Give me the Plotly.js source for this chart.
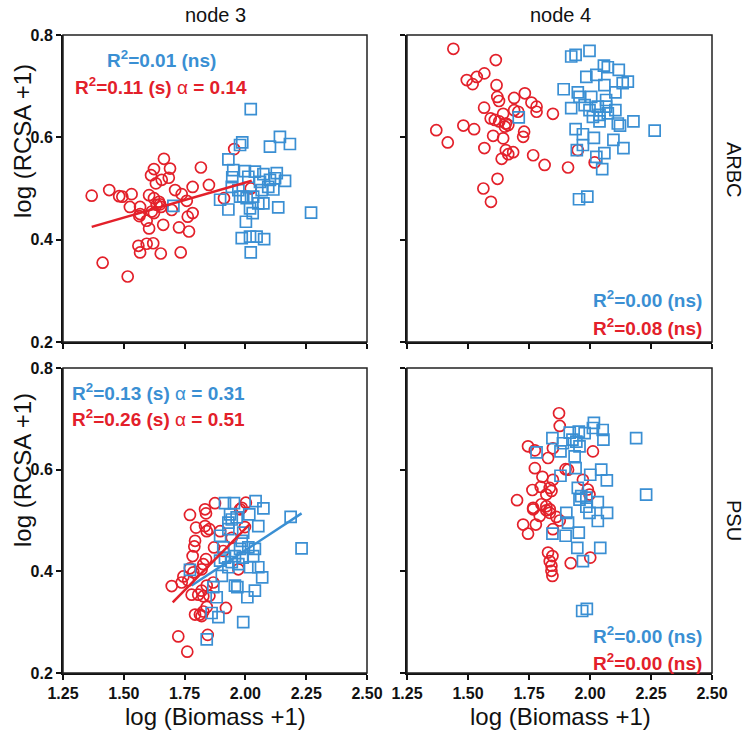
<!DOCTYPE html>
<html>
<head>
<meta charset="utf-8">
<script src="https://cdn.plot.ly/plotly-3.0.1.min.js"></script>
<style>html,body{margin:0;padding:0;background:#fff;}#chart{width:750px;height:738px;}</style>
</head>
<body>
<div id="chart"></div>
<script>
// ---- Data (log Biomass +1, log RCSA +1) ----
// Panel node 3 / ARBC
const n3ArbcRedX = [1.368,1.440,1.481,1.494,1.532,1.525,1.567,1.564,1.594,1.604,1.604,1.624,1.645,1.653,1.624,1.665,1.624,1.612,1.690,1.685,1.656,1.632,1.711,1.738,1.697,1.759,1.783,1.817,1.850,1.763,1.783,1.662,1.727,1.768,1.560,1.567,1.594,1.621,1.652,1.734,1.413,1.516,1.649,1.954,1.912,2.022,1.635,1.615,1.567];
const n3ArbcRedY = [0.486,0.497,0.485,0.484,0.489,0.464,0.464,0.446,0.437,0.422,0.487,0.481,0.474,0.464,0.452,0.558,0.538,0.526,0.539,0.521,0.517,0.510,0.497,0.489,0.458,0.476,0.503,0.541,0.507,0.445,0.452,0.429,0.424,0.416,0.388,0.375,0.392,0.393,0.373,0.375,0.355,0.328,0.469,0.577,0.481,0.500,0.468,0.455,0.450];
const n3ArbcBlueX = [2.022,1.987,1.978,2.142,2.101,2.183,1.930,1.950,1.946,1.998,2.039,2.074,2.129,2.122,2.163,2.101,2.060,1.944,1.971,1.991,2.032,2.067,2.115,2.074,1.896,1.930,2.019,2.030,2.135,2.270,2.002,1.985,2.019,2.046,2.077,2.022,2.005,2.053,2.094,1.978,2.012,1.704];
const n3ArbcBlueY = [0.655,0.590,0.585,0.601,0.582,0.587,0.557,0.536,0.522,0.534,0.533,0.528,0.530,0.520,0.515,0.517,0.513,0.503,0.497,0.484,0.484,0.497,0.498,0.471,0.478,0.459,0.461,0.452,0.463,0.453,0.435,0.403,0.406,0.406,0.401,0.375,0.481,0.471,0.503,0.484,0.523,0.466];
const n3ArbcRedFitX = [1.368, 2.026];
const n3ArbcRedFitY = [0.425, 0.515];

// Panel node 4 / ARBC
const n4ArbcRedX = [1.440,1.614,1.495,1.519,1.536,1.567,1.617,1.620,1.627,1.566,1.689,1.733,1.760,1.781,1.781,1.848,1.644,1.689,1.706,1.593,1.610,1.628,1.655,1.665,1.651,1.481,1.525,1.370,1.417,1.603,1.644,1.730,1.726,1.567,1.655,1.665,1.685,1.638,1.767,1.814,1.621,1.563,1.594,1.910,1.950,2.019];
const n4ArbcRedY = [0.773,0.751,0.712,0.704,0.718,0.725,0.702,0.679,0.671,0.658,0.677,0.686,0.668,0.660,0.650,0.646,0.646,0.653,0.650,0.637,0.634,0.631,0.627,0.624,0.621,0.623,0.616,0.614,0.590,0.603,0.598,0.611,0.601,0.579,0.575,0.567,0.571,0.558,0.565,0.546,0.519,0.500,0.474,0.541,0.575,0.551];
const n4ArbcBlueX = [1.998,1.923,1.941,2.057,2.073,2.118,1.985,2.026,2.059,2.134,2.155,2.104,1.892,1.950,1.957,2.005,2.066,1.923,1.978,1.998,2.032,2.066,2.104,2.012,2.039,2.073,2.039,2.114,2.123,2.178,2.265,1.941,1.971,2.016,2.096,2.137,1.946,1.971,2.026,2.059,2.050,1.955,1.989,1.708];
const n4ArbcBlueY = [0.769,0.758,0.761,0.740,0.737,0.732,0.718,0.722,0.702,0.706,0.709,0.688,0.694,0.688,0.679,0.679,0.673,0.657,0.663,0.653,0.660,0.660,0.653,0.640,0.644,0.647,0.631,0.627,0.623,0.631,0.613,0.616,0.606,0.599,0.595,0.579,0.575,0.585,0.562,0.569,0.538,0.479,0.484,0.639];

// Panel node 3 / PSU
const n3PsuRedX = [1.875,1.834,1.838,1.772,1.985,2.002,1.978,1.797,1.834,1.841,1.852,1.896,1.998,1.793,1.790,1.871,1.944,1.909,1.783,1.838,1.827,1.820,1.772,1.786,1.745,1.738,1.697,1.765,1.971,1.868,1.841,1.820,1.806,1.779,1.827,1.852,1.841,1.827,1.813,1.793,1.920,1.724,1.845,1.761,1.820];
const n3PsuRedY = [0.534,0.522,0.514,0.511,0.525,0.535,0.522,0.486,0.489,0.479,0.483,0.479,0.487,0.460,0.449,0.447,0.466,0.440,0.430,0.424,0.414,0.404,0.406,0.398,0.390,0.378,0.371,0.382,0.404,0.378,0.372,0.362,0.354,0.354,0.351,0.352,0.330,0.321,0.315,0.315,0.328,0.272,0.275,0.242,0.312];
const n3PsuBlueX = [1.916,1.953,2.042,2.074,1.937,1.944,1.964,1.930,2.016,2.186,2.053,1.896,1.985,1.909,2.012,2.039,1.978,1.957,1.916,1.896,1.944,1.989,2.032,2.231,2.019,2.053,2.069,1.903,1.868,1.957,1.967,2.039,2.008,1.882,1.861,1.889,1.991,1.841,1.930,1.991,1.930,1.971,1.772];
const n3PsuBlueY = [0.534,0.534,0.538,0.524,0.512,0.502,0.506,0.496,0.512,0.507,0.489,0.470,0.460,0.447,0.447,0.444,0.444,0.430,0.427,0.421,0.418,0.427,0.430,0.445,0.408,0.408,0.388,0.391,0.369,0.372,0.369,0.362,0.349,0.349,0.318,0.310,0.300,0.266,0.483,0.476,0.408,0.414,0.403];
const n3PsuRedFitX = [1.701, 2.016];
const n3PsuRedFitY = [0.339, 0.492];
const n3PsuBlueFitX = [1.779, 2.231];
const n3PsuBlueFitY = [0.372, 0.514];

// Panel node 4 / PSU
const n4PsuRedX = [1.873,1.876,1.746,1.774,1.828,1.848,2.012,1.774,1.900,1.910,1.805,1.848,1.971,1.764,1.798,1.835,1.842,1.821,1.701,1.991,1.998,1.767,1.801,1.821,1.835,1.767,1.821,1.835,1.794,1.862,1.876,1.726,1.746,1.778,1.848,1.828,1.846,1.835,1.842,1.842,1.846,1.921,2.001];
const n4PsuRedY = [0.711,0.686,0.646,0.638,0.623,0.642,0.636,0.603,0.601,0.600,0.586,0.580,0.580,0.560,0.566,0.564,0.558,0.551,0.540,0.561,0.551,0.525,0.532,0.528,0.522,0.522,0.520,0.515,0.509,0.507,0.500,0.492,0.474,0.492,0.483,0.437,0.430,0.420,0.411,0.401,0.391,0.416,0.427];
const n4PsuBlueX = [2.016,2.012,2.052,2.055,2.189,1.846,1.917,1.954,1.978,1.928,1.944,1.889,1.957,1.879,1.781,1.937,1.941,2.046,1.879,2.001,2.069,1.950,1.964,1.957,1.985,2.032,2.230,1.903,1.985,2.070,1.998,2.032,1.910,1.846,1.900,1.954,1.948,2.042,1.971,1.968,1.987];
const n4PsuBlueY = [0.692,0.682,0.678,0.659,0.662,0.662,0.673,0.675,0.672,0.659,0.655,0.652,0.646,0.636,0.634,0.626,0.603,0.600,0.588,0.590,0.579,0.564,0.548,0.541,0.545,0.536,0.551,0.515,0.527,0.515,0.515,0.499,0.496,0.474,0.470,0.476,0.446,0.446,0.420,0.322,0.326];

// Labels
const colTitles = ["node 3", "node 4"];
const rowTitles = ["ARBC", "PSU"];
const xTitle = "log (Biomass +1)";
const yTitle = "log (RCSA +1)";
const xTicks = [1.25, 1.50, 1.75, 2.00, 2.25, 2.50];
const yTicks = [0.2, 0.4, 0.6, 0.8];

const RED = "#e3202a";
const BLUE = "#3a8fd3";
const W = 750, H = 738;
const px = v => v / W;
const py = v => 1 - v / H;

function pts(x, y, xa, ya, color, symbol) {
  return {x: x, y: y, xaxis: xa, yaxis: ya, type: "scatter", mode: "markers", hoverinfo: "skip",
    marker: {symbol: symbol, size: 11, color: color, line: {color: color, width: 1.7}}};
}
function fit(x, y, xa, ya, color) {
  return {x: x, y: y, xaxis: xa, yaxis: ya, type: "scatter", mode: "lines", hoverinfo: "skip",
    line: {color: color, width: 2.5}};
}

const data = [
  pts(n3ArbcRedX, n3ArbcRedY, "x", "y", RED, "circle-open"),
  pts(n3ArbcBlueX, n3ArbcBlueY, "x", "y", BLUE, "square-open"),
  fit(n3ArbcRedFitX, n3ArbcRedFitY, "x", "y", RED),
  pts(n4ArbcRedX, n4ArbcRedY, "x2", "y2", RED, "circle-open"),
  pts(n4ArbcBlueX, n4ArbcBlueY, "x2", "y2", BLUE, "square-open"),
  pts(n3PsuRedX, n3PsuRedY, "x3", "y3", RED, "circle-open"),
  pts(n3PsuBlueX, n3PsuBlueY, "x3", "y3", BLUE, "square-open"),
  fit(n3PsuBlueFitX, n3PsuBlueFitY, "x3", "y3", BLUE),
  fit(n3PsuRedFitX, n3PsuRedFitY, "x3", "y3", RED),
  pts(n4PsuRedX, n4PsuRedY, "x4", "y4", RED, "circle-open"),
  pts(n4PsuBlueX, n4PsuBlueY, "x4", "y4", BLUE, "square-open")
];

const tickFont = {family: "Liberation Sans Narrow, Arial Narrow, Liberation Sans, Arial", size: 16, color: "#111", weight: "bold"};
function xa(domain, anchor, labels) {
  return {domain: domain, anchor: anchor, range: [1.25, 2.5], tickmode: "array", tickvals: xTicks,
    ticktext: xTicks.map(v => v.toFixed(2)), showticklabels: labels, ticks: "outside", ticklen: 5,
    tickwidth: 2, tickcolor: "#111", showline: true, linewidth: 2, linecolor: "#111", mirror: false,
    showgrid: false, zeroline: false, tickfont: tickFont, fixedrange: true};
}
function ya(domain, anchor, labels) {
  return {domain: domain, anchor: anchor, range: [0.2, 0.8], tickmode: "array", tickvals: yTicks,
    ticktext: yTicks.map(v => v.toFixed(1)), showticklabels: labels, ticks: "outside", ticklen: 5,
    tickwidth: 2, tickcolor: "#111", showline: true, linewidth: 2, linecolor: "#111", mirror: false,
    showgrid: false, zeroline: false, tickfont: tickFont, fixedrange: true};
}

const xL = [px(63), px(367)], xR = [px(407), px(712)];
const yT = [py(342), py(35)], yB = [py(673), py(368)];

const statFont = (c) => ({family: "Liberation Sans, Arial", size: 19, color: c});
const b = s => "<b>" + s + "</b>";
function stat(text, x, y, color, anchor) {
  return {text: text, x: px(x), y: py(y), xref: "paper", yref: "paper", xanchor: anchor, yanchor: "middle",
    showarrow: false, font: statFont(color)};
}
const labFont = {family: "Liberation Sans, Arial", size: 20, color: "#111"};
const titleFont = {family: "Liberation Sans, Arial", size: 24, color: "#111"};

const annotations = [
  {text: colTitles[0], x: px(215), y: py(15), xref: "paper", yref: "paper", showarrow: false, font: labFont, xanchor: "center", yanchor: "middle"},
  {text: colTitles[1], x: px(560), y: py(15), xref: "paper", yref: "paper", showarrow: false, font: labFont, xanchor: "center", yanchor: "middle"},
  {text: rowTitles[0], x: px(734), y: py(170), xref: "paper", yref: "paper", showarrow: false, font: labFont, textangle: 90, xanchor: "center", yanchor: "middle"},
  {text: rowTitles[1], x: px(734), y: py(520), xref: "paper", yref: "paper", showarrow: false, font: labFont, textangle: 90, xanchor: "center", yanchor: "middle"},
  {text: yTitle, x: px(22), y: py(141), xref: "paper", yref: "paper", showarrow: false, font: titleFont, textangle: -90, xanchor: "center", yanchor: "middle"},
  {text: yTitle, x: px(22), y: py(470), xref: "paper", yref: "paper", showarrow: false, font: titleFont, textangle: -90, xanchor: "center", yanchor: "middle"},
  {text: xTitle, x: px(215), y: py(716), xref: "paper", yref: "paper", showarrow: false, font: titleFont, xanchor: "center", yanchor: "middle"},
  {text: xTitle, x: px(560), y: py(716), xref: "paper", yref: "paper", showarrow: false, font: titleFont, xanchor: "center", yanchor: "middle"},
  stat(b("R<sup>2</sup>=0.01 (ns)"), 161, 59, BLUE, "center"),
  stat(b("R<sup>2</sup>=0.11 (s) ") + "α" + b(" = 0.14"), 161, 86, RED, "center"),
  stat(b("R<sup>2</sup>=0.00 (ns)"), 704, 299, BLUE, "right"),
  stat(b("R<sup>2</sup>=0.08 (ns)"), 704, 327, RED, "right"),
  stat(b("R<sup>2</sup>=0.13 (s) ") + "α" + b(" = 0.31"), 70, 392, BLUE, "left"),
  stat(b("R<sup>2</sup>=0.26 (s) ") + "α" + b(" = 0.51"), 70, 418, RED, "left"),
  stat(b("R<sup>2</sup>=0.00 (ns)"), 704, 635, BLUE, "right"),
  stat(b("R<sup>2</sup>=0.00 (ns)"), 704, 662, RED, "right")
];

function box(xr, yr) {
  return {type: "rect", xref: xr + " domain", yref: yr + " domain", x0: 0, x1: 1, y0: 0, y1: 1,
    line: {color: "#222", width: 1.5}, layer: "above"};
}

const layout = {
  width: W, height: H, margin: {l: 0, r: 0, t: 0, b: 0},
  paper_bgcolor: "#fff", plot_bgcolor: "#fff", showlegend: false,
  xaxis: xa(xL, "y", false), yaxis: ya(yT, "x", true),
  xaxis2: xa(xR, "y2", false), yaxis2: ya(yT, "x2", false),
  xaxis3: xa(xL, "y3", true), yaxis3: ya(yB, "x3", true),
  xaxis4: xa(xR, "y4", true), yaxis4: ya(yB, "x4", false),
  annotations: annotations,
  shapes: [box("x", "y"), box("x2", "y2"), box("x3", "y3"), box("x4", "y4")]
};

Plotly.newPlot("chart", data, layout, {displayModeBar: false, staticPlot: true});
</script>
</body>
</html>
